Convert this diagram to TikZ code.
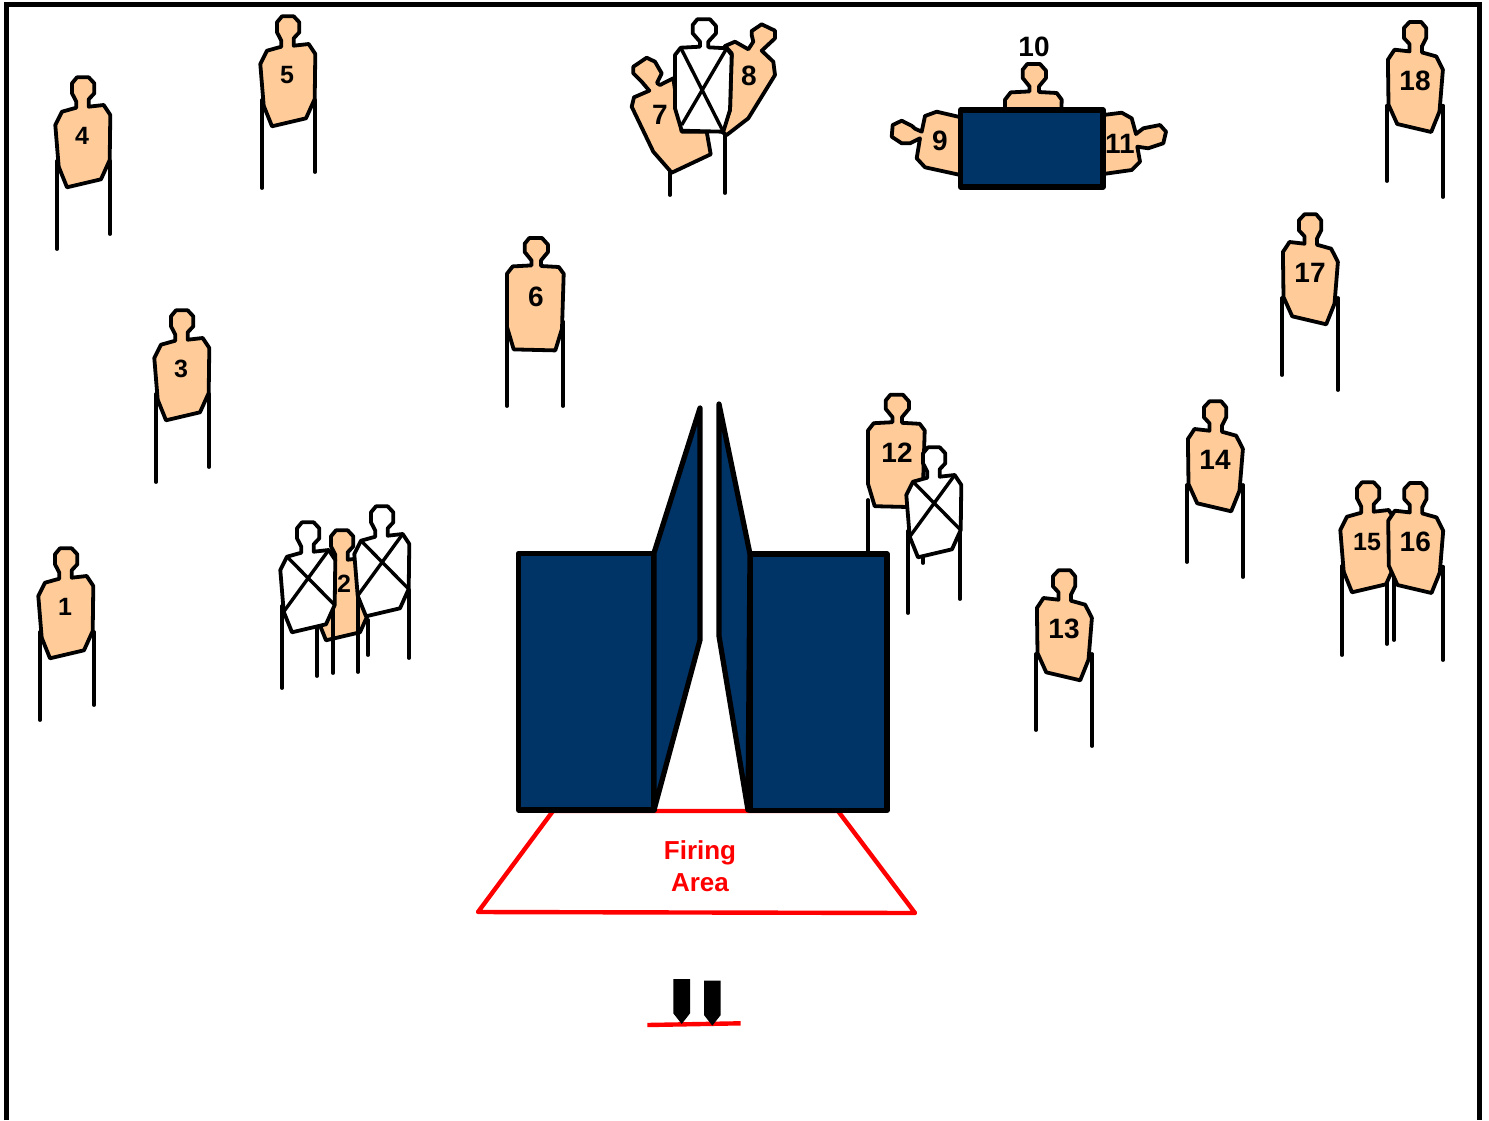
\documentclass[tikz,border=0pt]{standalone}
\usepackage{fontspec}
\setmainfont{Liberation Sans}
\definecolor{Skin}{HTML}{FFCC99}
\definecolor{Navy}{HTML}{003366}
\definecolor{Fire}{HTML}{FF0000}
\tikzset{
  frameline/.style={draw=black, line width=2.5pt},
  leg/.style={draw=black, line width=1.9pt, line cap=round},
  torso/.style={draw=black, fill=Skin, line width=1.9pt, line join=round},
  noshoot/.style={draw=black, fill=white, line width=1.9pt, line join=round},
  cross/.style={draw=black, line width=1.7pt},
  flip/.style={xscale=-1, xshift=-0.6pt},
  wall/.style={draw=black, fill=Navy, line width=2.6pt, line join=round},
  firing/.style={draw=Fire, line width=2.2pt, line join=round},
  num/.style={font=\fontsize{14}{14}\selectfont\bfseries, inner sep=0pt},
  numS/.style={font=\fontsize{12.5}{12.5}\selectfont\bfseries, inner sep=0pt},
}
% target outlines, measured from the middle of the body
\newcommand{\shapeA}{(-5,-58.7) -- (6.7,-58.7) -- (12.3,-52.7) -- (12.3,-42.7) -- (6.7,-36.7) -- (6.7,-29.3)
  -- (21.7,-31) -- (28.3,-21) -- (27.7,24) -- (19,43.3) -- (-15,51.3) -- (-23.3,30.7) -- (-26.7,-11)
  -- (-20,-24.3) -- (-5.7,-28.3) -- (-5.7,-34.3) -- (-10,-42.7) -- (-10,-52.7) -- cycle}
\newcommand{\shapeB}{(-6.7,-58.7) -- (6,-58.7) -- (12,-52) -- (12,-44.7) -- (5,-36.3) -- (5,-30.7)
  -- (22.7,-29.7) -- (27.7,-23) -- (26,32) -- (19.3,53.7) -- (-22.3,52.7) -- (-29,30.3) -- (-29,-23)
  -- (-23.3,-30.3) -- (-4.5,-31.3) -- (-4.5,-36.3) -- (-11.3,-44.7) -- (-11.3,-53) -- cycle}
% #1 number, #2 #3 middle, #4 body options, #5 outline, #6 #7 left foot, #8 #9 right foot
\newcommand{\target}[9]{%
  \draw[leg] (#6,#3+25) -- (#6,#7);
  \draw[leg] (#8,#3+25) -- (#8,#9);
  \draw[torso, shift={(#2,#3)}, #4] #5;
  \node[num] (t#1) at (#2,#3) {#1};}
% #1 #2 middle, #3 #4 left foot, #5 #6 right foot
\newcommand{\whiteT}[6]{%
  \draw[leg] (#3,#2+25) -- (#3,#4);
  \draw[leg] (#5,#2+25) -- (#5,#6);
  \draw[noshoot, shift={(#1,#2)}] \shapeA;
  \draw[cross, shift={(#1,#2)}] (-20,-24.3) -- (27.7,24) (21.7,-31) -- (-23.3,30.7);}

\begin{document}
\begin{tikzpicture}[x=0.5pt, y=-0.5pt]
  \useasboundingbox (0,0) rectangle (1489,1120);
  \draw[frameline] (6,1120) -- (6,4) -- (1479,4) -- (1479,1120);
  % left side
  \begin{scope}[num/.style={numS}]
    \target{1}{65}{607}{}{\shapeA}{40}{720}{94}{705}
    \target{3}{181}{369}{}{\shapeA}{156}{482}{209}{467}
    \target{4}{82}{136}{}{\shapeA}{57}{249}{110}{234}
    \target{5}{287}{75}{}{\shapeA}{262}{188}{315}{172}
  \end{scope}
  \target{6}{536}{296.7}{}{\shapeB}{507}{406}{563}{406}
  % group round 2
  \draw[leg] (317,620) -- (317,676);
  \draw[leg] (368,620) -- (368,655);
  \draw[torso, shift={(341,589)}] \shapeA;
  \whiteT{307}{581}{282}{688}{333}{673}
  \whiteT{381}{565}{358}{672}{409}{658}
  \node[numS] (t2) at (344,584) {2};
  % top group
  \draw[leg] (670,172) -- (670,195);
  \draw[leg] (725,135) -- (725,193);
  \draw[torso] (633.3,66.7) -- (646.7,57.7) -- (655,61.7) -- (661.7,73.3) -- (657,83) -- (660,85) -- (673.3,78.3)
    -- (678,110) -- (681.7,131.7) -- (706.7,131.7) -- (710.7,154.3) -- (671.7,172.7) -- (653.3,151.7)
    -- (631.7,106.7) -- (634,97.3) -- (649.3,90.7) -- (641.7,81.7) -- (633.3,73.3) -- cycle;
  \draw[torso] (725,46) -- (735,41.7) -- (748.3,49.3) -- (753.3,41.7) -- (751.7,35) -- (751.7,31) -- (761.7,24.3)
    -- (775,30.7) -- (775,38.3) -- (761.7,50.7) -- (773.3,61.7) -- (775,75) -- (748.3,118.3) -- (726.7,135)
    -- (721.7,131.7) -- (730,110) -- (731.7,53.3) -- cycle;
  \draw[noshoot] (697.3,19.3) -- (710,19.3) -- (716,26) -- (716,33.3) -- (708.3,41.7) -- (708.3,47.3)
    -- (726.7,48.3) -- (731.7,55) -- (730,110) -- (723.3,131.7) -- (681.7,130.7) -- (675,108.3) -- (675,55)
    -- (680.7,47.7) -- (700,46.7) -- (700,41.7) -- (692.7,33.3) -- (692.7,25) -- cycle;
  \draw[cross] (680.7,47.7) -- (723.3,131.7) (726.7,48.3) -- (681.7,125);
  \node[num] (t7) at (660,115) {7};
  \node[num] (t8) at (749,76) {8};
  % barricade with 9 10 11
  \draw[torso] (975,118) -- (958.3,116.7) -- (936.7,111.7) -- (925,116) -- (921.7,131.7) -- (915,128.7) -- (912,126)
    -- (901.7,120.7) -- (892.7,125) -- (891.7,136.7) -- (901.7,143.3) -- (910,143.3) -- (920,138.3)
    -- (916.7,158.3) -- (925,167.3) -- (965,176) -- (975,176) -- cycle;
  \draw[torso] (1090,115) -- (1103.3,115) -- (1121.7,112.7) -- (1131.7,118.3) -- (1136,134) -- (1143.3,128.3)
    -- (1160,125) -- (1166,131.7) -- (1163.3,143.3) -- (1148.3,148.3) -- (1137.3,146.7) -- (1140,161.7)
    -- (1131.7,170) -- (1103.3,174) -- (1090,174) -- cycle;
  \draw[torso, shift={(1034,122.7)}] \shapeB;
  \draw[wall] (960.5,110) rectangle (1103,187);
  \node[num] (t9) at (940,141) {9};
  \node[num] (t10) at (1034,47) {10};
  \node[num] (t11) at (1120,144) {11};
  % right side
  \draw[leg] (923,500) -- (923,563);
  \draw[torso, shift={(897,453.5)}] \shapeB;
  \node[num] (t12) at (897,453) {12};
  \draw[leg] (868,500) -- (868,570);
  \whiteT{933}{506}{908}{613}{960}{599}
  \target{13}{1064}{629}{flip}{\shapeA}{1036}{730}{1092}{746}
  \target{14}{1215}{460}{flip}{\shapeA}{1187}{562}{1243}{577}
  \draw[leg] (1342,566) -- (1342,655);
  \draw[leg] (1387,566) -- (1387,644);
  \draw[torso, shift={(1367,541)}] \shapeA;
  \node[numS] (t15) at (1367,542) {15};
  \target{16}{1415.3}{541.7}{flip}{\shapeA}{1394}{640}{1443}{660}
  \target{17}{1310}{273}{flip}{\shapeA}{1282}{375}{1338}{390}
  \target{18}{1415}{80.7}{flip}{\shapeA}{1387}{181}{1443}{197}
  % firing area
  \draw[firing] (553,811) -- (838,811) -- (915,913) -- (478,912) -- cycle;
  \node[font=\fontsize{13}{16}\selectfont\bfseries, text=Fire, align=center] (area) at (700,866) {Firing\\Area};
  % walls
  \draw[wall] (518.5,553.5) rectangle (654,810);
  \draw[wall] (654,553) -- (700,408) -- (700,640) -- (654,810) -- cycle;
  \draw[wall] (750,554) rectangle (887,810.5);
  \draw[wall] (719,404) -- (750,554) -- (748,810) -- (719,636) -- cycle;
  % feet
  \draw[firing] (647.3,1025) -- (740.7,1023.3);
  \fill[black] (673.3,979) -- (690,979) -- (690,1013.3) -- (681.7,1024) -- (673.3,1013.3) -- cycle;
  \fill[black] (704,980.7) -- (720.7,980.7) -- (720.7,1015) -- (712.3,1025.7) -- (704,1015) -- cycle;
\end{tikzpicture}
\end{document}
